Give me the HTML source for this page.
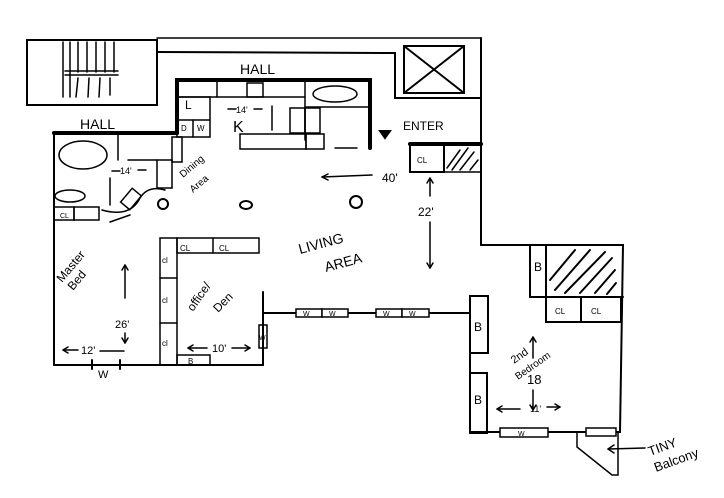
<!DOCTYPE html>
<html><head><meta charset="utf-8"><style>
html,body{margin:0;padding:0;background:#fff;width:724px;height:498px;overflow:hidden}
svg{display:block}
text{font-family:"Liberation Sans",sans-serif;fill:#000}
</style></head><body>
<svg width="724" height="498" viewBox="0 0 724 498" xmlns="http://www.w3.org/2000/svg" stroke="#000" fill="none" stroke-width="2" stroke-linecap="round">
<!-- top stair box -->
<rect x="27" y="40" width="130" height="65"/>
<g stroke-width="1.5">
<line x1="63" y1="42" x2="63" y2="97"/><line x1="70" y1="42" x2="70" y2="97"/><line x1="78" y1="42" x2="78" y2="72"/><line x1="87" y1="42" x2="87" y2="72"/><line x1="96" y1="42" x2="96" y2="72"/><line x1="105" y1="42" x2="105" y2="72"/><line x1="114" y1="42" x2="114" y2="72"/>
<line x1="65" y1="71" x2="118" y2="71"/><line x1="65" y1="75" x2="118" y2="75"/>
<line x1="78" y1="78" x2="76" y2="97"/><line x1="89" y1="78" x2="88" y2="97"/><line x1="100" y1="78" x2="99" y2="97"/><line x1="110" y1="78" x2="110" y2="95"/>
</g>
<polyline points="157,52 395,53 395,98 481,98"/>
<line x1="481" y1="38" x2="481" y2="245"/>
<line x1="157" y1="38" x2="481" y2="38" stroke-width="1.5"/>
<rect x="404" y="46" width="60" height="47"/>
<line x1="404" y1="46" x2="464" y2="93"/><line x1="464" y1="46" x2="404" y2="93"/>
<!-- kitchen -->
<polyline points="177,133 177,80 370,80 370,148" stroke-width="4"/>
<line x1="54" y1="133" x2="177" y2="133" stroke-width="4"/>
<g stroke-width="1.5">
<line x1="177" y1="97" x2="305" y2="97"/><line x1="217" y1="80" x2="217" y2="97"/>
<rect x="247" y="83" width="16" height="14"/>
<line x1="305" y1="80" x2="305" y2="140"/><line x1="305" y1="107" x2="370" y2="107"/>
<ellipse cx="335" cy="94" rx="22" ry="8"/>
<rect x="177" y="97" width="33" height="40"/><line x1="177" y1="120" x2="210" y2="120"/><line x1="193" y1="120" x2="193" y2="137"/>
<rect x="240" y="134" width="66" height="15"/><rect x="306" y="134" width="18" height="15"/>
<rect x="290" y="108" width="15" height="25"/><rect x="305" y="108" width="15" height="25"/>
<line x1="335" y1="148" x2="357" y2="148"/>
<line x1="118" y1="133" x2="118" y2="160"/><line x1="128" y1="160" x2="172" y2="160"/>
<rect x="172" y="137" width="10" height="25"/>
<line x1="157" y1="160" x2="157" y2="188"/><line x1="157" y1="188" x2="172" y2="188"/><line x1="172" y1="160" x2="172" y2="188"/>
<ellipse cx="83" cy="155" rx="24" ry="14"/>
<ellipse cx="70" cy="196" rx="15" ry="6"/>
<rect x="54" y="207" width="20" height="13"/><rect x="74" y="207" width="25" height="13"/>
<rect x="125" y="190" width="12" height="18" transform="rotate(40 131 199)"/>
<path d="M102,210 Q130,218 140,198 Q148,185 165,190"/>
<line x1="110" y1="222" x2="130" y2="215"/>
</g>
<circle cx="163" cy="204" r="5"/><ellipse cx="246" cy="205" rx="6" ry="4"/><circle cx="356" cy="202" r="6"/>
<line x1="54" y1="133" x2="54" y2="365"/>
<line x1="54" y1="365" x2="263" y2="365"/>
<line x1="92" y1="360" x2="92" y2="369"/><line x1="120" y1="360" x2="120" y2="369"/>
<rect x="160" y="238" width="17" height="127" stroke-width="1.5"/>
<line x1="160" y1="278" x2="177" y2="278" stroke-width="1.5"/><line x1="160" y1="323" x2="177" y2="323" stroke-width="1.5"/>
<rect x="177" y="238" width="82" height="15" stroke-width="1.5"/><line x1="213" y1="238" x2="213" y2="253" stroke-width="1.5"/>
<rect x="177" y="355" width="33" height="10" stroke-width="1.5"/>
<line x1="263" y1="292" x2="263" y2="365"/>
<rect x="259" y="325" width="8" height="23" stroke-width="1.5"/>
<line x1="263" y1="313" x2="470" y2="313"/>
<rect x="296" y="309" width="26" height="8" fill="#fff" stroke-width="1.5"/><rect x="322" y="309" width="26" height="8" fill="#fff" stroke-width="1.5"/>
<rect x="376" y="309" width="26" height="8" fill="#fff" stroke-width="1.5"/><rect x="402" y="309" width="27" height="8" fill="#fff" stroke-width="1.5"/>
<line x1="410" y1="144" x2="481" y2="144" stroke-width="4"/>
<rect x="410" y="144" width="34" height="28"/>
<line x1="444" y1="172" x2="481" y2="172" stroke-width="1.5"/>
<g stroke-width="1.5"><line x1="447" y1="168" x2="460" y2="150"/><line x1="452" y1="170" x2="468" y2="148"/><line x1="460" y1="170" x2="474" y2="152"/><line x1="470" y1="170" x2="478" y2="160"/></g>
<path d="M380,131 l10,0 l-5,7 z" fill="#000"/>
<polyline points="481,245 623,245 620,432 470,432 470,296"/>
<rect x="470" y="296" width="18" height="57"/><rect x="470" y="373" width="17" height="60"/>
<rect x="530" y="245" width="16" height="52"/>
<line x1="530" y1="297" x2="623" y2="297"/>
<rect x="546" y="297" width="35" height="25"/><rect x="581" y="297" width="40" height="25"/>
<g stroke-width="2"><line x1="550" y1="280" x2="575" y2="250"/><line x1="555" y1="290" x2="590" y2="250"/><line x1="565" y1="293" x2="605" y2="252"/><line x1="580" y1="293" x2="612" y2="258"/><line x1="595" y1="293" x2="615" y2="270"/><line x1="607" y1="294" x2="616" y2="283"/></g>
<rect x="500" y="428" width="48" height="9" fill="#fff" stroke-width="1.5"/>
<rect x="586" y="428" width="30" height="8" fill="#fff" stroke-width="1.5"/>
<polyline points="577,432 577,447 612,475 618,475 618,432" stroke-width="1.5"/>
<g stroke-width="1.5">
<line x1="322" y1="177" x2="372" y2="175"/><path d="M322,177 l6,-3 m-6,3 l6,3"/>
<line x1="430" y1="178" x2="430" y2="196"/><path d="M430,178 l-3,5 m3,-5 l3,5"/>
<line x1="430" y1="222" x2="430" y2="268"/><path d="M430,268 l-3,-5 m3,5 l3,-5"/>
<line x1="125" y1="265" x2="125" y2="298"/><path d="M125,265 l-3,5 m3,-5 l3,5"/>
<line x1="125" y1="333" x2="125" y2="343"/><path d="M125,343 l-3,-5 m3,5 l3,-5"/>
<line x1="63" y1="350" x2="78" y2="350"/><path d="M63,350 l5,-3 m-5,3 l5,3"/>
<line x1="100" y1="351" x2="124" y2="351"/>
<line x1="188" y1="348" x2="207" y2="348"/><path d="M188,348 l5,-3 m-5,3 l5,3"/>
<line x1="232" y1="348" x2="250" y2="348"/><path d="M250,348 l-5,-3 m5,3 l-5,3"/>
<line x1="533" y1="337" x2="533" y2="358"/><path d="M533,337 l-3,5 m3,-5 l3,5"/>
<line x1="533" y1="390" x2="533" y2="410"/><path d="M533,410 l-3,-5 m3,5 l3,-5"/>
<line x1="497" y1="409" x2="520" y2="409"/><path d="M497,409 l5,-3 m-5,3 l5,3"/>
<line x1="547" y1="407" x2="560" y2="407"/><path d="M560,407 l-5,-3 m5,3 l-5,3"/>
<line x1="608" y1="449" x2="645" y2="448"/><path d="M608,449 l6,-4 m-6,4 l6,4"/>
<line x1="228" y1="109" x2="236" y2="109"/><line x1="254" y1="109" x2="262" y2="109"/>
<line x1="272" y1="106" x2="272" y2="130"/>
<line x1="112" y1="171" x2="120" y2="171"/><line x1="138" y1="170" x2="146" y2="170"/>
<line x1="110" y1="178" x2="110" y2="205"/>
</g>
<g stroke="none">
<text x="240" y="74" font-size="14">HALL</text>
<text x="80" y="129" font-size="14">HALL</text>
<text x="403" y="130" font-size="12">ENTER</text>
<text x="185" y="109" font-size="12">L</text>
<text x="181" y="131" font-size="8">D</text><text x="197" y="131" font-size="8">W</text>
<text x="233" y="132" font-size="16">K</text>
<text x="236" y="113" font-size="9">14'</text>
<text x="120" y="174" font-size="9">14'</text>
<text x="382" y="182" font-size="12">40'</text>
<text x="418" y="216" font-size="12">22'</text>
<text x="417" y="163" font-size="8">CL</text>
<text x="60" y="218" font-size="7">CL</text>
<text x="180" y="251" font-size="8">CL</text>
<text x="219" y="251" font-size="8">CL</text>
<text x="162" y="263" font-size="8">cl</text>
<text x="162" y="303" font-size="8">cl</text>
<text x="162" y="346" font-size="8">cl</text>
<text x="188" y="364" font-size="8">B</text>
<text x="259" y="340" font-size="7">W</text>
<text x="303" y="316" font-size="7">W</text><text x="329" y="316" font-size="7">W</text>
<text x="383" y="316" font-size="7">W</text><text x="409" y="316" font-size="7">W</text>
<text x="518" y="436" font-size="7">W</text>
<text x="115" y="328" font-size="11">26'</text>
<text x="81" y="354" font-size="11">12'</text>
<text x="212" y="352" font-size="11">10'</text>
<text x="98" y="378" font-size="11">W</text>
<text x="474" y="331" font-size="12">B</text>
<text x="474" y="404" font-size="12">B</text>
<text x="534" y="271" font-size="12">B</text>
<text x="555" y="314" font-size="8">CL</text>
<text x="591" y="314" font-size="8">CL</text>
<text x="527" y="384" font-size="13">18</text>
<text x="530" y="412" font-size="9">11'</text>
<text x="300" y="254" font-size="14" transform="rotate(-15 300 254)">LIVING</text>
<text x="326" y="272" font-size="14" transform="rotate(-15 326 272)">AREA</text>
<text x="62" y="283" font-size="12" transform="rotate(-50 62 283)">Master</text>
<text x="73" y="291" font-size="12" transform="rotate(-50 73 291)">Bed</text>
<text x="193" y="312" font-size="12" transform="rotate(-55 193 312)">office/</text>
<text x="218" y="313" font-size="12" transform="rotate(-45 218 313)">Den</text>
<text x="183" y="178" font-size="10" transform="rotate(-40 183 178)">Dining</text>
<text x="193" y="193" font-size="10" transform="rotate(-40 193 193)">Area</text>
<text x="514" y="364" font-size="11" transform="rotate(-35 514 364)">2nd</text>
<text x="518" y="380" font-size="10" transform="rotate(-35 518 380)">Bedroom</text>
<text x="650" y="456" font-size="13" transform="rotate(-20 650 456)">TINY</text>
<text x="656" y="472" font-size="13" transform="rotate(-20 656 472)">Balcony</text>
</g>
</svg>
</body></html>
